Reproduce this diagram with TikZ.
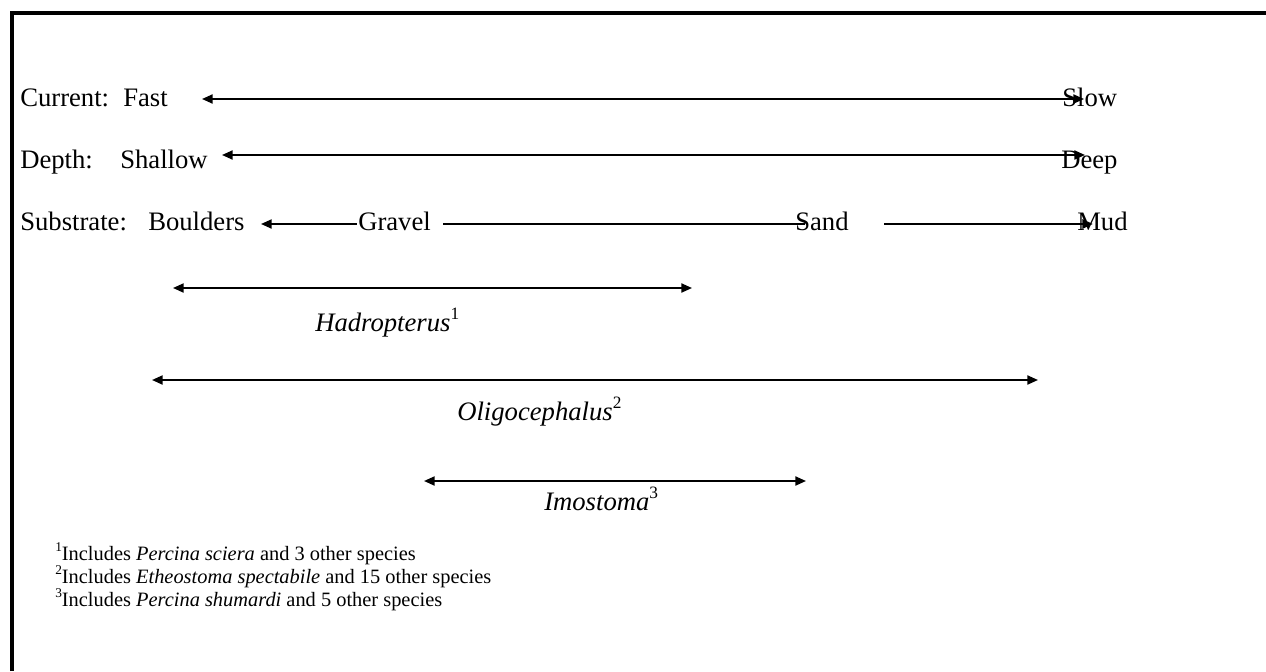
\documentclass[tikz,border=0pt]{standalone}
\usepackage{fontspec}
\setmainfont{Liberation Serif}
\usetikzlibrary{arrows.meta}
\newcommand{\supbig}[1]{\raisebox{0.42em}{\fontsize{13}{13}\selectfont #1}}
\newcommand{\supsmall}[1]{\raisebox{0.42em}{\fontsize{10}{10}\selectfont #1}}
\begin{document}
\begin{tikzpicture}[x=0.75pt,y=-0.75pt,
  lab/.style={anchor=base west,inner sep=0pt,font=\fontsize{20}{24}\selectfont},
  foot/.style={anchor=base west,inner sep=0pt,font=\fontsize{15.3}{18}\selectfont},
  tip/.tip={Triangle[length=8pt,width=6.8pt]},
  arrline/.style={line width=1.4pt},
  both/.style={arrline,tip-tip},
  leftarr/.style={arrline,tip-},
  rightarr/.style={line width=2pt,-tip},
  plainthick/.style={line width=2.2pt},
  frame/.style={line width=3pt}
]
\useasboundingbox (0,0) rectangle (1266,671);
\fill[white] (0,0) rectangle (1266,671);
\draw[frame] (11.5,671) -- (11.5,13) -- (1266,13);

% Current row
\node[lab] (cur) at (20,106) {Current:};
\node[lab] (fast) at (123,106) {Fast};
\node[lab] (slow) at (1062,106) {Slow};
\coordinate (c1) at (202,99);
\coordinate (c2) at (1084,99);
\draw[both] (c1) -- (c2);

% Depth row
\node[lab] (dep) at (20,168) {Depth:};
\node[lab] (shallow) at (120,168) {Shallow};
\node[lab] (deep) at (1061,168) {Deep};
\coordinate (d1) at (222,155);
\coordinate (d2) at (1085,155);
\draw[both] (d1) -- (d2);

% Substrate row
\node[lab] (sub) at (20,230) {Substrate:};
\node[lab] (boulders) at (148,230) {Boulders};
\node[lab] (gravel) at (358,230) {Gravel};
\node[lab] (sand) at (795,230) {Sand};
\node[lab] (mud) at (1077,230) {Mud};
\coordinate (s1) at (261,224);
\coordinate (s2) at (357,224);
\coordinate (s3) at (443,224);
\coordinate (s4) at (805,224);
\coordinate (s5) at (884,224);
\coordinate (s6) at (1093,224);
\draw[leftarr] (s1) -- (s2);
\draw[plainthick] (s3) -- (s4);
\draw[rightarr] (s5) -- (s6);

% Genera ranges
\coordinate (h1) at (173,288);
\coordinate (h2) at (692,288);
\draw[both] (h1) -- (h2);
\node[lab] (hadro) at (315,331) {\textit{Hadropterus}\supbig{1}};

\coordinate (o1) at (152,380);
\coordinate (o2) at (1038,380);
\draw[both] (o1) -- (o2);
\node[lab] (oligo) at (457,420) {\textit{Oligocephalus}\supbig{2}};

\coordinate (i1) at (424,481);
\coordinate (i2) at (806,481);
\draw[both] (i1) -- (i2);
\node[lab] (imo) at (544,510) {\textit{Imostoma}\supbig{3}};

% Footnotes
\node[foot] (f1) at (55,560) {\supsmall{1}Includes \textit{Percina sciera} and 3 other species};
\node[foot] (f2) at (55,583) {\supsmall{2}Includes \textit{Etheostoma spectabile} and 15 other species};
\node[foot] (f3) at (55,606) {\supsmall{3}Includes \textit{Percina shumardi} and 5 other species};
\end{tikzpicture}
\end{document}
